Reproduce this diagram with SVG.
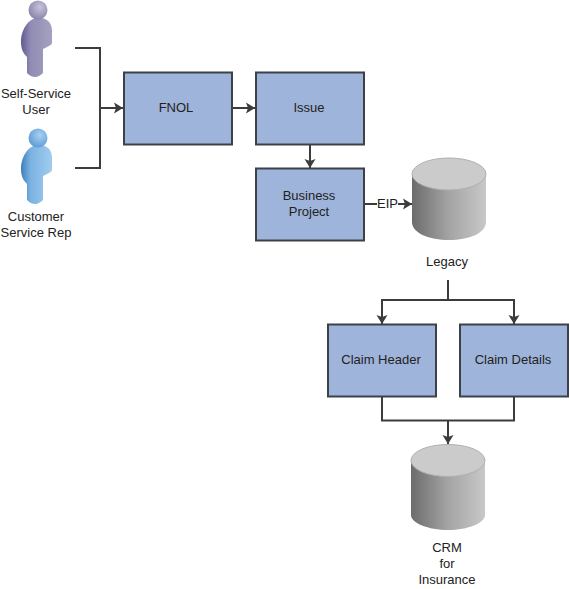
<svg xmlns="http://www.w3.org/2000/svg" width="569" height="589" viewBox="0 0 569 589">
<style>
text{font-family:"Liberation Sans",Arial,sans-serif;font-size:13px;fill:#222;text-anchor:middle}
.box{fill:#9fb4da;stroke:#3c4148;stroke-width:2}
.c{fill:none;stroke:#3c3c3c;stroke-width:2}
.top{fill:#cbcbcb;stroke:#b0b0b0;stroke-width:1}
.body{fill:url(#cyl)}
</style>
<defs>
<marker id="a" markerUnits="userSpaceOnUse" markerWidth="10" markerHeight="12" refX="9" refY="6" orient="auto"><path d="M0 .5L9 6L0 11.500L2 6Z" fill="#3c3c3c"/></marker>
<linearGradient id="cyl"><stop offset="0" stop-color="#6c6c6c"/><stop offset=".5" stop-color="#a4a4a4"/><stop offset="1" stop-color="#c8c8c8"/></linearGradient>
<radialGradient id="h1" cx=".6" cy=".35" r=".7"><stop offset="0" stop-color="#c8c4d8"/><stop offset="1" stop-color="#8581a8"/></radialGradient>
<linearGradient id="b1"><stop offset="0" stop-color="#5f5a90"/><stop offset=".3" stop-color="#8f8bb3"/><stop offset="1" stop-color="#a5a2c0"/></linearGradient>
<radialGradient id="h2" cx=".6" cy=".35" r=".7"><stop offset="0" stop-color="#a8d0f0"/><stop offset="1" stop-color="#5a9ad6"/></radialGradient>
<linearGradient id="b2"><stop offset="0" stop-color="#3f7fb8"/><stop offset=".3" stop-color="#7ab2e2"/><stop offset="1" stop-color="#a2ccee"/></linearGradient>
<path id="person" d="M37 18C28 19 21 30 21 42C21 50 24 54 27 57L27 73C30 76 33 77 35 77C38 77 41 75 43 73L43 49C47 47 52 45 52 43L52 30C52 22 45 17 37 18Z"/>
</defs>
<g id="connectors">
<path class="c" d="M75 48H100V168H75"/>
<path class="c" d="M100 108H123" marker-end="url(#a)"/>
<path class="c" d="M232 108H255" marker-end="url(#a)"/>
<path class="c" d="M310 145V168" marker-end="url(#a)"/>
<path class="c" d="M364 204H377"/>
<path class="c" d="M398 204H412" marker-end="url(#a)"/>
<path class="c" d="M448 280V300"/>
<path class="c" d="M448 300H382V324" marker-end="url(#a)"/>
<path class="c" d="M448 300H514V324" marker-end="url(#a)"/>
<path class="c" d="M382 397V420.500H514V397"/>
<path class="c" d="M448 420.500V444" marker-end="url(#a)"/>
</g>
<g id="self-service-user">
<use href="#person" fill="url(#b1)"/>
<circle cx="38" cy="10" r="9.500" fill="url(#h1)"/>
<text x="36" y="98">Self-Service</text><text x="36" y="114">User</text>
</g>
<g id="customer-service-rep">
<use href="#person" y="127" fill="url(#b2)"/>
<circle cx="38" cy="138" r="9.500" fill="url(#h2)"/>
<text x="36" y="221">Customer</text><text x="36" y="237">Service Rep</text>
</g>
<g id="fnol"><rect class="box" x="124" y="72.500" width="108" height="72"/><text x="176" y="112">FNOL</text></g>
<g id="issue"><rect class="box" x="256" y="72.500" width="108" height="72"/><text x="309" y="112">Issue</text></g>
<g id="business-project"><rect class="box" x="256" y="168.500" width="108" height="72"/><text x="309" y="200">Business</text><text x="309" y="216">Project</text></g>
<g id="eip"><text x="387.500" y="208">EIP</text></g>
<g id="legacy">
<path class="body" d="M412 174V222C412 233 429 240 449 240C469 240 486 233 486 222V174Z"/>
<ellipse class="top" cx="449" cy="174" rx="37" ry="16"/>
<text x="447" y="266">Legacy</text>
</g>
<g id="claim-header"><rect class="box" x="328" y="324.500" width="108" height="72"/><text x="381" y="364">Claim Header</text></g>
<g id="claim-details"><rect class="box" x="460" y="324.500" width="108" height="72"/><text x="513" y="364">Claim Details</text></g>
<g id="crm">
<path class="body" d="M411 460V515C411 523 428 530 448 530C468 530 485 523 485 515V460Z"/>
<ellipse class="top" cx="448" cy="460.500" rx="37" ry="16"/>
<text x="447" y="552">CRM</text><text x="447" y="568">for</text><text x="447" y="584">Insurance</text>
</g>
</svg>
